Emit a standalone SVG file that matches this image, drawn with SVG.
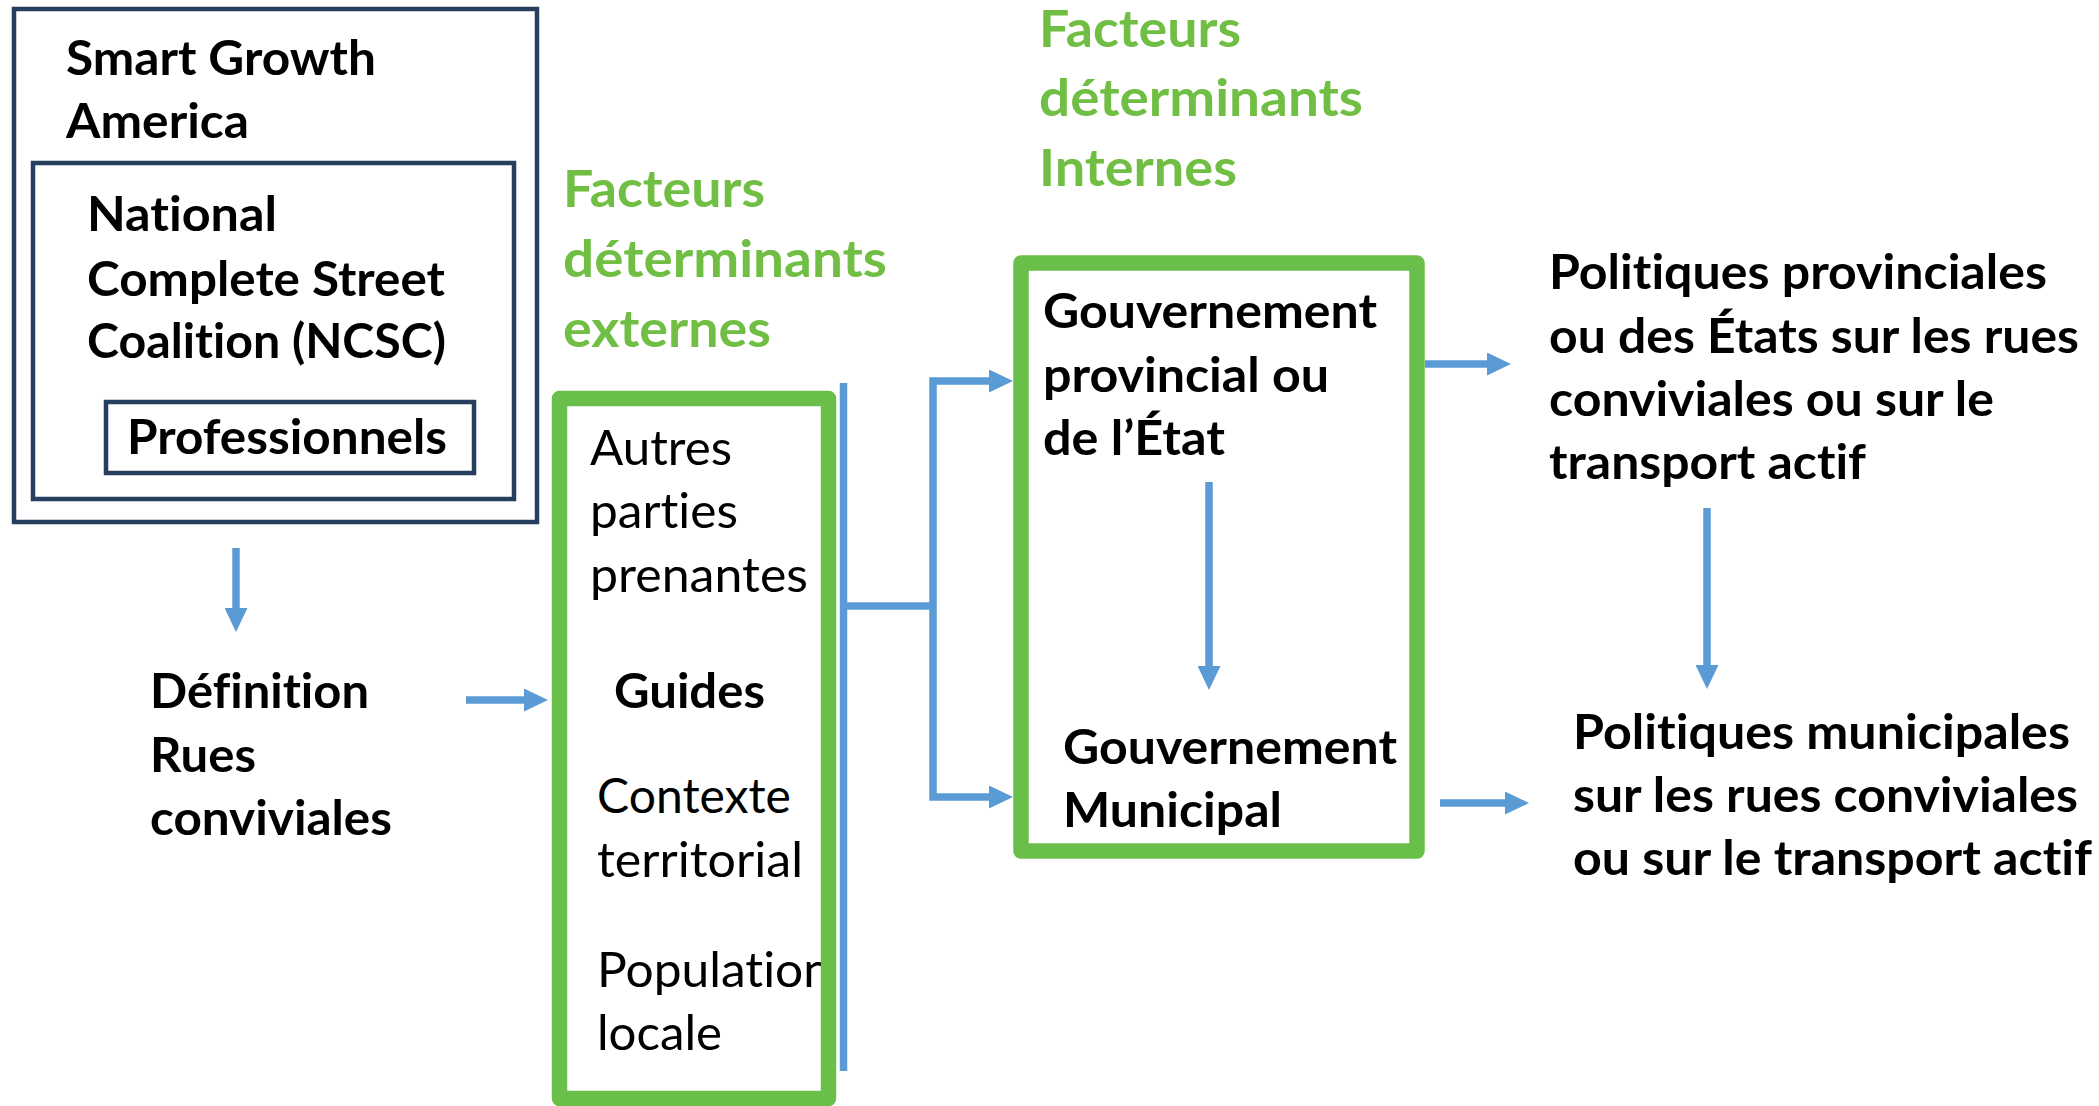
<svg xmlns="http://www.w3.org/2000/svg" width="2099" height="1106" viewBox="0 0 2099 1106">
<defs>
<style>
text{font-family:Lato,"Open Sans","Liberation Sans",sans-serif;fill:#000;font-variant-ligatures:none;font-feature-settings:"liga" 0,"clig" 0}
.b{font-weight:700;font-size:48px}
.r{font-weight:400;font-size:47.5px}
.g{font-weight:700;font-size:51.5px;fill:#70BF44}
.navy{fill:none;stroke:#263F5E;stroke-width:4.5}
.gfill{fill:#fff;stroke:none}
.gbox{fill:none;stroke:#6ABF4B;stroke-width:15.5;stroke-linejoin:round}
.conn{fill:none;stroke:#5B9BD5;stroke-width:7.5;stroke-linejoin:miter}
</style>
<marker id="ah" markerUnits="userSpaceOnUse" markerWidth="24" markerHeight="23" refX="4" refY="11.5" orient="auto">
<path d="M0,0 L24,11.5 L0,23 Z" fill="#5B9BD5"/>
</marker>
</defs>
<rect x="0" y="0" width="2099" height="1106" fill="#fff"/>

<g id="smart-growth-america">
<rect class="navy" x="14" y="9" width="523" height="513"/>
<text class="b" x="66" y="75" textLength="310" lengthAdjust="spacingAndGlyphs">Smart Growth</text>
<text class="b" x="66" y="138" textLength="183" lengthAdjust="spacingAndGlyphs">America</text>
</g>

<g id="ncsc">
<rect class="navy" x="33" y="163" width="481" height="336"/>
<text class="b" x="87" y="231" textLength="190" lengthAdjust="spacingAndGlyphs">National</text>
<text class="b" x="87" y="296" textLength="358" lengthAdjust="spacingAndGlyphs">Complete Street</text>
<text class="b" x="87" y="358" textLength="359" lengthAdjust="spacingAndGlyphs">Coalition (NCSC)</text>
</g>

<g id="professionnels">
<rect class="navy" x="106" y="402" width="368" height="71"/>
<text class="b" x="127" y="454" textLength="320" lengthAdjust="spacingAndGlyphs">Professionnels</text>
</g>

<g id="definition">
<text class="b" x="150" y="708" textLength="219" lengthAdjust="spacingAndGlyphs">Définition</text>
<text class="b" x="150" y="772" textLength="106" lengthAdjust="spacingAndGlyphs">Rues</text>
<text class="b" x="150" y="835" textLength="242" lengthAdjust="spacingAndGlyphs">conviviales</text>
</g>

<g id="label-externes">
<text class="g" x="563" y="207" textLength="202" lengthAdjust="spacingAndGlyphs">Facteurs</text>
<text class="g" x="563" y="277" textLength="324" lengthAdjust="spacingAndGlyphs">déterminants</text>
<text class="g" x="563" y="347" textLength="208" lengthAdjust="spacingAndGlyphs">externes</text>
</g>

<g id="label-internes">
<text class="g" x="1039" y="47" textLength="202" lengthAdjust="spacingAndGlyphs">Facteurs</text>
<text class="g" x="1039" y="116" textLength="324" lengthAdjust="spacingAndGlyphs">déterminants</text>
<text class="g" x="1039" y="186" textLength="198" lengthAdjust="spacingAndGlyphs">Internes</text>
</g>

<g id="facteurs-externes">
<rect class="gfill" x="560" y="399" width="269" height="700"/>
<text class="r" x="590" y="465" textLength="142" lengthAdjust="spacingAndGlyphs">Autres</text>
<text class="r" x="590" y="528" textLength="148" lengthAdjust="spacingAndGlyphs">parties</text>
<text class="r" x="590" y="592" textLength="218" lengthAdjust="spacingAndGlyphs">prenantes</text>
<text class="b" x="614" y="708" textLength="151" lengthAdjust="spacingAndGlyphs">Guides</text>
<text class="r" x="597" y="813" textLength="194" lengthAdjust="spacingAndGlyphs">Contexte</text>
<text class="r" x="597" y="877" textLength="206" lengthAdjust="spacingAndGlyphs">territorial</text>
<text class="r" x="597" y="987" textLength="234" lengthAdjust="spacingAndGlyphs">Population</text>
<text class="r" x="597" y="1050" textLength="125" lengthAdjust="spacingAndGlyphs">locale</text>
<rect class="gbox" x="559.5" y="398.5" width="269" height="700"/>
</g>

<g id="facteurs-internes">
<rect class="gfill" x="1021" y="263" width="396" height="588"/>
<rect class="gbox" x="1021" y="263" width="396" height="588"/>
<g id="gouvernement-provincial">
<text class="b" x="1043" y="328" textLength="334" lengthAdjust="spacingAndGlyphs">Gouvernement</text>
<text class="b" x="1043" y="392" textLength="286" lengthAdjust="spacingAndGlyphs">provincial ou</text>
<text class="b" x="1043" y="455" textLength="182" lengthAdjust="spacingAndGlyphs">de l’État</text>
</g>
<g id="gouvernement-municipal">
<text class="b" x="1063" y="764" textLength="334" lengthAdjust="spacingAndGlyphs">Gouvernement</text>
<text class="b" x="1063" y="827" textLength="219" lengthAdjust="spacingAndGlyphs">Municipal</text>
</g>
</g>

<g id="politiques-provinciales">
<text class="b" x="1549" y="289" textLength="498" lengthAdjust="spacingAndGlyphs">Politiques provinciales</text>
<text class="b" x="1549" y="353" textLength="530" lengthAdjust="spacingAndGlyphs">ou des États sur les rues</text>
<text class="b" x="1549" y="416" textLength="445" lengthAdjust="spacingAndGlyphs">conviviales ou sur le</text>
<text class="b" x="1549" y="479" textLength="317" lengthAdjust="spacingAndGlyphs">transport actif</text>
</g>

<g id="politiques-municipales">
<text class="b" x="1573" y="749" textLength="497" lengthAdjust="spacingAndGlyphs">Politiques municipales</text>
<text class="b" x="1573" y="812" textLength="505" lengthAdjust="spacingAndGlyphs">sur les rues conviviales</text>
<text class="b" x="1573" y="875" textLength="519" lengthAdjust="spacingAndGlyphs">ou sur le transport actif</text>
</g>

<g id="connectors">
<path class="conn" d="M236,548 V612" marker-end="url(#ah)"/>
<path class="conn" d="M466,700 H528" marker-end="url(#ah)"/>
<path class="conn" d="M843.5,383 V1071"/>
<path class="conn" d="M843.5,606 H933"/>
<path class="conn" d="M933,606 V381 H993" marker-end="url(#ah)"/>
<path class="conn" d="M933,606 V797 H993" marker-end="url(#ah)"/>
<path class="conn" d="M1209,482 V670" marker-end="url(#ah)"/>
<path class="conn" d="M1425,364 H1491" marker-end="url(#ah)"/>
<path class="conn" d="M1440,803 H1509" marker-end="url(#ah)"/>
<path class="conn" d="M1707,508 V669" marker-end="url(#ah)"/>
</g>
</svg>
